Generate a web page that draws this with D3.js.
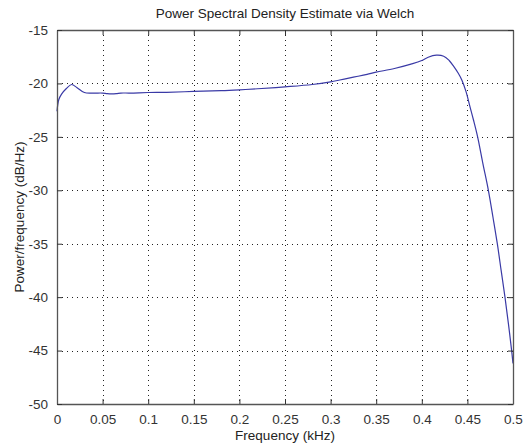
<!DOCTYPE html>
<html><head><meta charset="utf-8">
<script src="https://cdn.jsdelivr.net/npm/d3@7/dist/d3.min.js"></script>
<style>body{margin:0;background:#fff}svg{display:block}text{font-family:"Liberation Sans",Arial,sans-serif}</style>
</head><body>
<svg id="c" width="532" height="445"></svg>
<script>
const title = "Power Spectral Density Estimate via Welch";
const xLabel = "Frequency (kHz)";
const yLabel = "Power/frequency (dB/Hz)";
const xTicks = [0,0.05,0.1,0.15,0.2,0.25,0.3,0.35,0.4,0.45,0.5];
const xTickLabels = ["0","0.05","0.1","0.15","0.2","0.25","0.3","0.35","0.4","0.45","0.5"];
const yTicks = [-50,-45,-40,-35,-30,-25,-20,-15];
const freq = [0,0.002,0.005,0.01,0.016,0.022,0.03,0.04,0.05,0.055,0.06,0.065,0.07,0.08,0.1,0.12,0.15,0.18,0.2,0.22,0.25,0.28,0.3,0.31,0.32,0.33,0.34,0.35,0.37,0.39,0.4,0.407,0.416,0.424,0.43,0.435,0.44,0.444,0.4485,0.4528,0.4566,0.4612,0.467,0.473,0.478,0.4828,0.487,0.4912,0.495,0.4985,0.5];
const power = [-22.6,-21.5,-21.0,-20.5,-20.1,-20.4,-20.85,-20.9,-20.9,-20.95,-20.97,-20.95,-20.9,-20.9,-20.85,-20.83,-20.75,-20.68,-20.6,-20.5,-20.32,-20.1,-19.85,-19.68,-19.5,-19.33,-19.15,-18.95,-18.6,-18.15,-17.85,-17.55,-17.36,-17.45,-17.85,-18.4,-19.05,-19.7,-20.77,-22.17,-23.4,-25,-27.5,-30,-32.5,-35,-37.5,-40,-42.5,-45,-46.2];

const L=57,R=513,T=30,B=404;
const svg=d3.select("#c");
const x=d3.scaleLinear().domain([0,0.5]).range([L,R]);
const y=d3.scaleLinear().domain([-50,-15]).range([B,T]);

// grid
const g=svg.append("g");
g.selectAll("line.gx").data(xTicks.slice(1,-1)).enter().append("line")
 .attr("x1",d=>Math.round(x(d))+0.5).attr("x2",d=>Math.round(x(d))+0.5).attr("y1",T).attr("y2",B)
 .attr("stroke","#222").attr("stroke-width",1).attr("stroke-dasharray","1,4");
g.selectAll("line.gy").data(yTicks.slice(1,-1)).enter().append("line")
 .attr("y1",d=>Math.round(y(d))+0.5).attr("y2",d=>Math.round(y(d))+0.5).attr("x1",L).attr("x2",R)
 .attr("stroke","#222").attr("stroke-width",1).attr("stroke-dasharray","1,4");

// curve
svg.append("path").datum(freq.map((f,i)=>[f,power[i]]))
 .attr("d",d3.line().x(d=>x(d[0])).y(d=>y(d[1])).curve(d3.curveCatmullRom.alpha(0.5)))
 .attr("fill","none").attr("stroke","#3a3aa6").attr("stroke-width",1.2);

// axes (ticks inward, on all sides)
const tl=5;
const ax=svg.append("g").attr("transform",`translate(0,${B})`)
 .call(d3.axisBottom(x).tickValues(xTicks).tickFormat((d,i)=>xTickLabels[i]).tickSizeInner(-tl).tickSizeOuter(0).tickPadding(10));
const axT=svg.append("g").attr("transform",`translate(0,${T})`)
 .call(d3.axisTop(x).tickValues(xTicks).tickFormat("").tickSizeInner(-tl).tickSizeOuter(0));
const ay=svg.append("g").attr("transform",`translate(${L},0)`)
 .call(d3.axisLeft(y).tickValues(yTicks).tickFormat(d=>String(d)).tickSizeInner(-tl).tickSizeOuter(0).tickPadding(9));
const ayR=svg.append("g").attr("transform",`translate(${R},0)`)
 .call(d3.axisRight(y).tickValues(yTicks).tickFormat("").tickSizeInner(-tl).tickSizeOuter(0));
[ax,axT,ay,ayR].forEach(a=>{
  a.selectAll("path.domain").attr("stroke","#555").attr("stroke-width",1.3);
  a.selectAll(".tick line").attr("stroke","#333");
  a.selectAll("text").attr("font-size",13.5).attr("fill","#333").attr("font-family","'Liberation Sans',Arial,sans-serif");
});

svg.append("text").attr("x",(L+R)/2).attr("y",18).attr("text-anchor","middle")
 .attr("font-size",13.5).attr("fill","#222").text(title);
svg.append("text").attr("x",(L+R)/2).attr("y",440).attr("text-anchor","middle")
 .attr("font-size",13.5).attr("fill","#222").text(xLabel);
svg.append("text").attr("transform",`translate(24,${(T+B)/2}) rotate(-90)`).attr("text-anchor","middle")
 .attr("font-size",13.5).attr("fill","#222").text(yLabel);
</script>
</body></html>
